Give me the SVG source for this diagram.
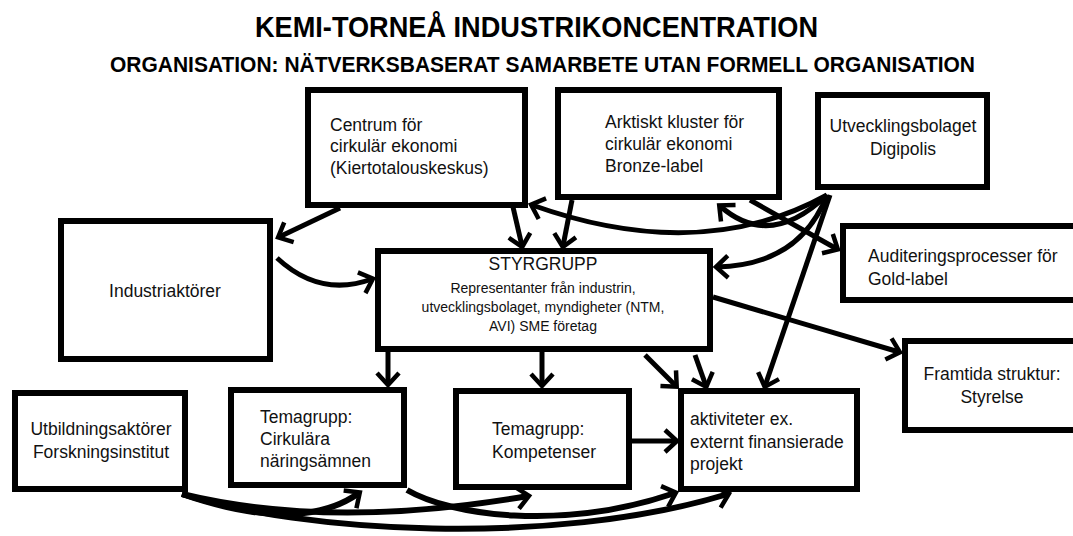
<svg xmlns="http://www.w3.org/2000/svg" width="1073" height="536" viewBox="0 0 1073 536">
<style>
.box{fill:#fff;stroke:#000;stroke-width:6}
.t{font-family:"Liberation Sans",Arial,sans-serif;font-size:17.5px;fill:#111}
.c{text-anchor:middle}
.s{font-size:14px}
.h{font-family:"Liberation Sans",Arial,sans-serif;font-weight:bold;fill:#000}
.ln{fill:none;stroke:#000;stroke-width:5;marker-end:url(#ah)}
.thick{stroke-width:6}
</style>
<defs>
<marker id="ah" markerUnits="userSpaceOnUse" markerWidth="30" markerHeight="30" viewBox="-15 -15 30 30" refX="-1" refY="0" orient="auto" overflow="visible">
<path d="M-12,-11 L0,0 L-12,11" fill="none" stroke="#000" stroke-width="4.5"/>
</marker>
</defs>
<rect width="1073" height="536" fill="#fff"/>
<text class="h" x="255" y="37" font-size="30" textLength="563" lengthAdjust="spacingAndGlyphs">KEMI-TORNEÅ INDUSTRIKONCENTRATION</text>
<text class="h" x="110" y="72" font-size="21.5" textLength="865" lengthAdjust="spacingAndGlyphs">ORGANISATION: NÄTVERKSBASERAT SAMARBETE UTAN FORMELL ORGANISATION</text>

<g id="connectors">
<path class="ln" d="M340,208 L279,237"/>
<path class="ln" d="M277,258 Q320,298 372,279"/>
<path class="ln" d="M513,207 L522,246"/>
<path class="ln" d="M572,200 L563,246"/>
<path class="ln" d="M827,195 Q700,265 532,205"/>
<path class="ln" d="M827,195 Q770,250 720,206"/>
<path class="ln" d="M827,195 Q800,265 717,267"/>
<path class="ln" d="M830,195 L765,386"/>
<path class="ln" d="M750,200 L837,249"/>
<path class="ln" d="M713,297 L899,352"/>
<path class="ln" d="M388,352 L388,384"/>
<path class="ln" d="M542,352 L542,385"/>
<path class="ln" d="M645,355 L676,386"/>
<path class="ln" d="M695,355 L706,386"/>
<path class="ln" d="M632,441 L676,441"/>
<path class="ln thick" d="M182,494 Q300,535 359,493"/>
<path class="ln thick" d="M182,494 Q330,530 528,496"/>
<path class="ln thick" d="M182,494 C300,532 550,548 728,494"/>
<path class="ln thick" d="M407,490 C450,515 560,532 675,493"/>
</g>

<g id="centrum">
<rect class="box" x="308" y="90" width="217" height="115"/>
<text class="t" x="330" y="131" font-size="18">Centrum för</text>
<text class="t" x="330" y="152" font-size="18">cirkulär ekonomi</text>
<text class="t" x="330" y="174" font-size="18">(Kiertotalouskeskus)</text>
</g>
<g id="arktiskt">
<rect class="box" x="558" y="90" width="221" height="107"/>
<text class="t" x="605" y="128" font-size="18">Arktiskt kluster för</text>
<text class="t" x="605" y="150" font-size="18">cirkulär ekonomi</text>
<text class="t" x="605" y="172" font-size="18">Bronze-label</text>
</g>
<g id="digipolis">
<rect class="box" x="818" y="95" width="169" height="92"/>
<text class="t c" x="903" y="132">Utvecklingsbolaget</text>
<text class="t c" x="903" y="155">Digipolis</text>
</g>
<g id="auditering">
<rect class="box" x="843" y="226" width="240" height="74"/>
<text class="t" x="868" y="262">Auditeringsprocesser för</text>
<text class="t" x="868" y="285">Gold-label</text>
</g>
<g id="industri">
<rect class="box" x="61" y="221" width="209" height="138"/>
<text class="t c" x="165" y="297" font-size="17">Industriaktörer</text>
</g>
<g id="styrgrupp">
<rect class="box" x="378" y="251" width="332" height="98"/>
<text class="t c" x="543" y="270">STYRGRUPP</text>
<text class="t c s" x="543" y="293">Representanter från industrin,</text>
<text class="t c s" x="543" y="312">utvecklingsbolaget, myndigheter (NTM,</text>
<text class="t c s" x="543" y="331">AVI) SME företag</text>
</g>
<g id="framtida">
<rect class="box" x="905" y="341" width="180" height="89"/>
<text class="t c" x="992" y="380" font-size="17">Framtida struktur:</text>
<text class="t c" x="992" y="403" font-size="17">Styrelse</text>
</g>
<g id="utbildning">
<rect class="box" x="15" y="393" width="170" height="96"/>
<text class="t c" x="101" y="435">Utbildningsaktörer</text>
<text class="t c" x="101" y="458">Forskningsinstitut</text>
</g>
<g id="cirkulara">
<rect class="box" x="231" y="390" width="173" height="95"/>
<text class="t" x="260" y="423">Temagrupp:</text>
<text class="t" x="260" y="445">Cirkulära</text>
<text class="t" x="260" y="467">näringsämnen</text>
</g>
<g id="kompetenser">
<rect class="box" x="456" y="391" width="173" height="96"/>
<text class="t" x="492" y="435">Temagrupp:</text>
<text class="t" x="492" y="458">Kompetenser</text>
</g>
<g id="aktiviteter">
<rect class="box" x="681" y="391" width="176" height="98"/>
<text class="t" x="690" y="425" font-size="18">aktiviteter ex.</text>
<text class="t" x="690" y="448" font-size="18">externt finansierade</text>
<text class="t" x="690" y="470" font-size="18">projekt</text>
</g>
</svg>
